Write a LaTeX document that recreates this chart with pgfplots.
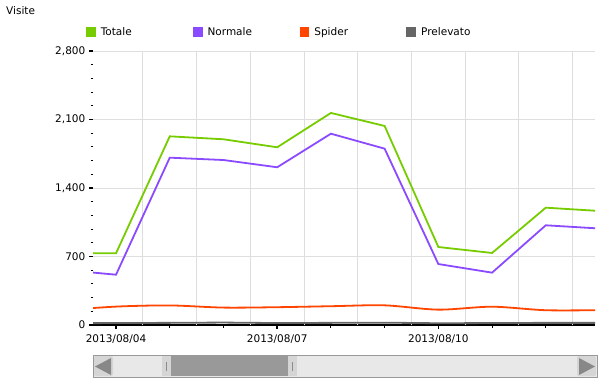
\documentclass[border=0pt]{standalone}
\usepackage{pgfplots}
\pgfplotsset{compat=1.18}
\usepackage{fontspec}
\setmainfont{DejaVu Sans}
\definecolor{cTot}{RGB}{119,204,0}
\definecolor{cNor}{RGB}{139,74,255}
\definecolor{cSpi}{RGB}{255,69,0}
\definecolor{cPre}{RGB}{102,102,102}
\definecolor{cGrid}{RGB}{222,222,222}
\begin{document}
\fontsize{10.5}{12}\selectfont
\begin{tikzpicture}[x=1pt,y=1pt]
\useasboundingbox (0,0) rectangle (604,384);
\node[anchor=west, inner sep=0pt] at (6,373) {Visite};
\begin{axis}[
  at={(93pt,59pt)}, anchor=south west,
  scale only axis, width=502pt, height=274pt,
  xmin=-0.4286, xmax=8.916, ymin=0, ymax=2800,
  axis x line*=bottom, axis y line*=left,
  x axis line style={-, black, line width=1.6pt},
  y axis line style={draw=none},
  tick align=outside,
  /pgf/number format/assume math mode=true,
  /pgf/number format/1000 sep={,},
  xtick={0,3,6},
  xticklabels={2013/08/04,2013/08/07,2013/08/10},
  minor xtick={1,2,4,5,7,8},
  extra x ticks={0.5,1.5,2.5,3.5,4.5,5.5,6.5,7.5,8.5},
  extra x tick labels={},
  extra x tick style={grid=major, major tick length=0pt},
  ytick={0,700,1400,2100,2800},
  minor y tick num=4,
  ymajorgrids,
  grid style={cGrid, line width=0.9pt},
  major tick length=4pt, minor tick length=2.5pt,
  major tick style={black, line width=1.6pt},
  minor tick style={black, line width=1pt},
  tick label style={font=\fontsize{10.5}{12}\selectfont},
  xticklabel style={yshift=-2pt},
  legend columns=4,
  legend style={at={(-0.01394,1.069)}, anchor=west, draw=none, fill=none,
    inner sep=0pt, outer sep=0pt, column sep=0pt,
    /tikz/every odd column/.append style={column sep=5pt},
    nodes={inner xsep=0pt, inner ysep=1pt, text width=92pt, align=left},
    font=\fontsize{10.5}{12}\selectfont},
  legend image code/.code={\fill (0pt,-4pt) rectangle (8pt,4pt);},
  every axis plot/.append style={line width=1.8pt},
]
\addplot[color=cTot] coordinates {(-1,733) (0,733) (1,1928) (2,1898) (3,1816) (4,2167) (5,2034) (6,797) (7,736) (8,1199) (9,1165)};
\addlegendentry{Totale}
\addplot[color=cNor] coordinates {(-1,565) (0,514) (1,1710) (2,1686) (3,1612) (4,1955) (5,1802) (6,623) (7,535) (8,1019) (9,986)};
\addlegendentry{Normale}
\addplot[color=cSpi, smooth, tension=0.5] coordinates {(-1,150) (0,188) (1,200) (2,178) (3,182) (4,192) (5,201) (6,157) (7,187) (8,151) (9,152)};
\addlegendentry{Spider}
\addplot[color=cPre] coordinates {(-1,18) (0,20) (1,22) (2,25) (3,20) (4,22) (5,24) (6,18) (7,20) (8,22) (9,22)};
\addlegendentry{Prelevato}
\end{axis}
% scrollbar (decoration)
\draw[draw=gray!80, fill=gray!18, line width=0.8pt] (93,7) rectangle (597,29);
\fill[gray!33, rounded corners=2pt] (94,8) rectangle (113,28);
\fill[gray!93] (95,17.5) -- (111,26) -- (111,9) -- cycle;
\fill[gray!33, rounded corners=2pt] (577,8) rectangle (596,28);
\fill[gray!93] (595,17.5) -- (579,26) -- (579,9) -- cycle;
\fill[gray!80] (171,8) rectangle (288,28);
\fill[gray!33] (162,8) rectangle (171,28);
\fill[gray!33] (288,8) rectangle (297,28);
\draw[gray!90, line width=0.8pt] (166.5,13) -- (166.5,22);
\draw[gray!90, line width=0.8pt] (292.5,13) -- (292.5,22);
\end{tikzpicture}
\end{document}
